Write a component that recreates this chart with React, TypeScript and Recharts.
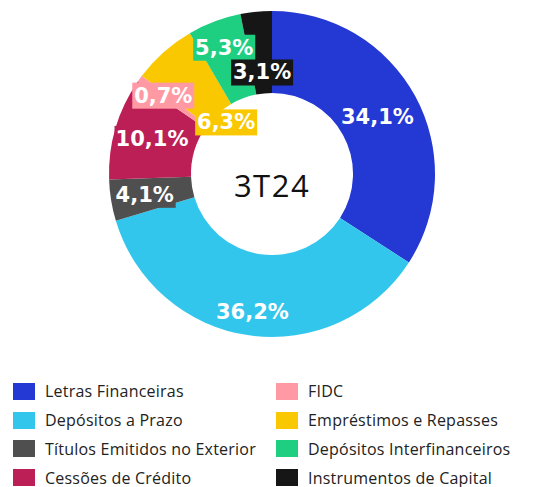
import { Cell, Label, Legend, Pie, PieChart } from 'recharts'

const CATEGORIES = [
  'Letras Financeiras',
  'Depósitos a Prazo',
  'Títulos Emitidos no Exterior',
  'Cessões de Crédito',
  'FIDC',
  'Empréstimos e Repasses',
  'Depósitos Interfinanceiros',
  'Instrumentos de Capital',
]
const SHARES = [34.1, 36.2, 4.1, 10.1, 0.7, 6.3, 5.3, 3.1]
const PERIOD = '3T24'

const COLORS = ['#2438D3', '#33C6EC', '#4F4F4F', '#BC1F56', '#FF9AA5', '#FAC800', '#1ECF82', '#161616']
// label distance from centre, per slice (labels were nudged to avoid overlap)
const LABEL_RADIUS = [120, 139, 129, 125, 134, 69, 135, 102]

const LABEL_FONT = '"DejaVu Sans", sans-serif'
const TEXT_FONT = '"Open Sans", sans-serif'
const RADIAN = Math.PI / 180

const rows = CATEGORIES.map((name, i) => ({ name, value: SHARES[i] }))

const fmt = (v: number) => `${v.toFixed(1).replace('.', ',')}%`

function renderLabel(props: any) {
  const { cx, cy, midAngle, index, value } = props
  const r = LABEL_RADIUS[index]
  const x = cx + r * Math.cos(-midAngle * RADIAN)
  const y = cy + r * Math.sin(-midAngle * RADIAN)
  const text = fmt(value)
  const w = text.length * 13 + 10
  const h = 26
  return (
    <g>
      <rect x={x - w / 2} y={y - h / 2} width={w} height={h} fill={COLORS[index]} />
      <text
        x={x}
        y={y}
        fill="#fff"
        textAnchor="middle"
        dominantBaseline="central"
        fontFamily={LABEL_FONT}
        fontWeight={700}
        fontSize={21}
      >
        {text}
      </text>
    </g>
  )
}

function renderLegend() {
  const half = Math.ceil(CATEGORIES.length / 2)
  const cols = [CATEGORIES.slice(0, half), CATEGORIES.slice(half)]
  return (
    <div
      style={{
        display: 'flex',
        fontFamily: TEXT_FONT,
        fontSize: 16,
        lineHeight: '16px',
        letterSpacing: 0.22,
        color: '#222',
      }}
    >
      {cols.map((col, c) => (
        <div key={c} style={{ width: c === 0 ? 263 : 268 }}>
          {col.map((name, k) => {
            const i = c * half + k
            return (
              <div key={name} style={{ display: 'flex', alignItems: 'center', height: 28.8 }}>
                <span style={{ width: 22, height: 17, background: COLORS[i], marginRight: 10 }} />
                <span>{name}</span>
              </div>
            )
          })}
        </div>
      ))}
    </div>
  )
}

export default function App() {
  return (
    <div style={{ position: 'absolute', left: 0, top: 0, width: 544, height: 487, background: '#fff' }}>
      <PieChart width={544} height={487} margin={{ top: 0, right: 0, bottom: 0, left: 0 }}>
        <Pie
          data={rows}
          dataKey="value"
          nameKey="name"
          cx={272}
          cy={174}
          innerRadius={81}
          outerRadius={163}
          startAngle={90}
          endAngle={-270}
          stroke="none"
          label={renderLabel}
          labelLine={false}
          isAnimationActive={false}
        >
          {rows.map((r, i) => (
            <Cell key={r.name} fill={COLORS[i]} />
          ))}
          <Label
            value={PERIOD}
            position="center"
            fill="#111"
            fontFamily={TEXT_FONT}
            fontSize={31}
            style={{ letterSpacing: 1.5 }}
          />
        </Pie>
        <Legend
          content={renderLegend}
          wrapperStyle={{ left: 13, top: 377, width: 531, bottom: 'auto' }}
        />
      </PieChart>
    </div>
  )
}
